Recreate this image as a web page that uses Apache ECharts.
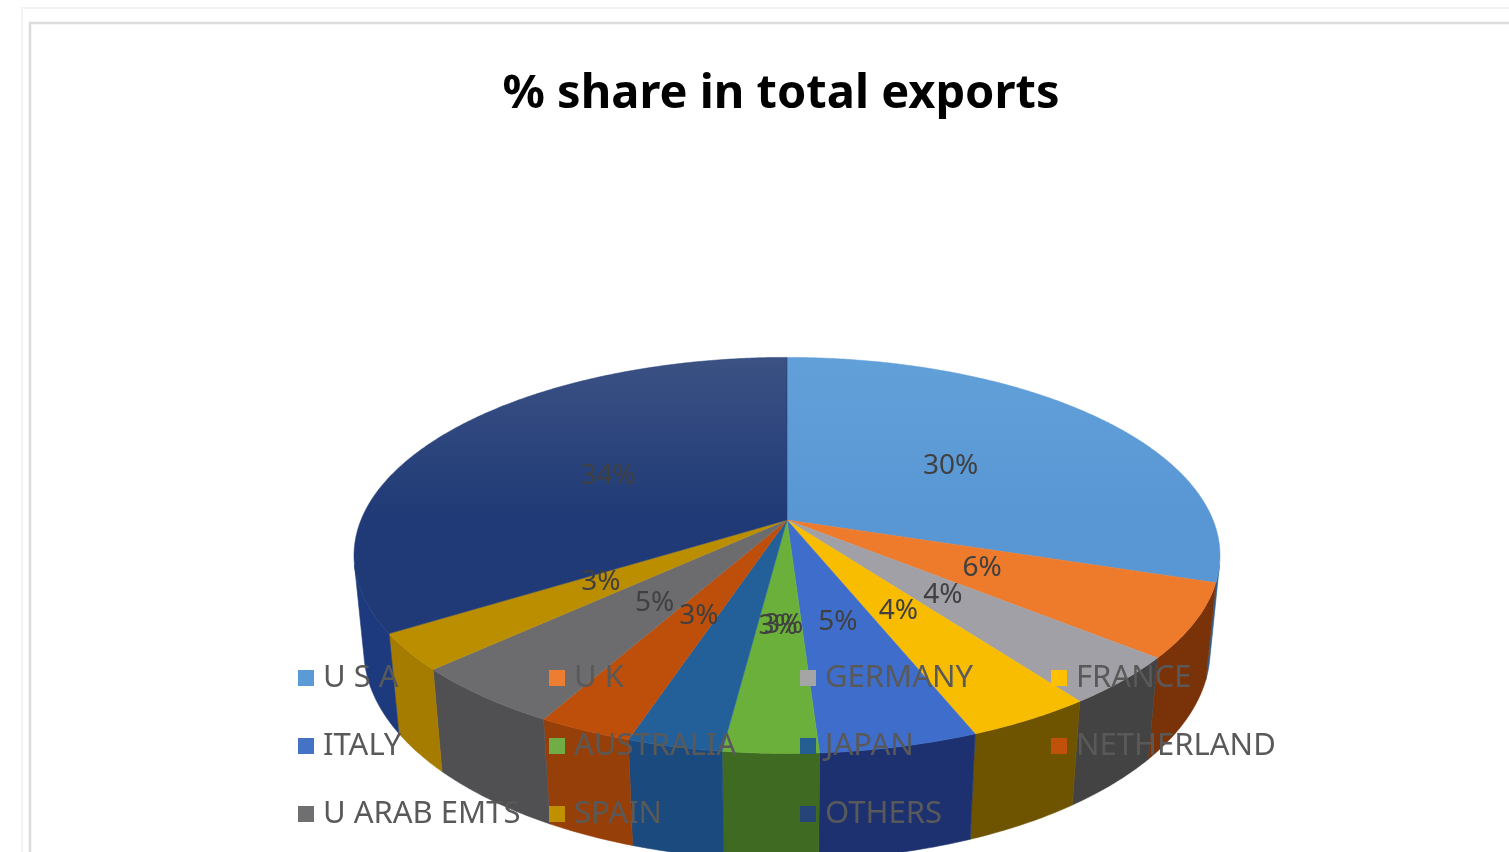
<!DOCTYPE html>
<html>
<head>
<meta charset="utf-8">
<script src="https://cdn.jsdelivr.net/npm/echarts@6/dist/echarts.min.js"></script>
<style>
  html, body { margin: 0; padding: 0; background: #ffffff; }
  #chart { width: 1509px; height: 852px; }
</style>
</head>
<body>
<div id="chart"></div>
<script>
// Export destinations and their share of total exports (%)
const countries = ['U S A', 'U K', 'GERMANY', 'FRANCE', 'ITALY', 'AUSTRALIA', 'JAPAN', 'NETHERLAND', 'U ARAB EMTS', 'SPAIN', 'OTHERS'];
const shares = [30, 6, 4, 4, 5, 3, 3, 3, 5, 3, 34];

// Slice colours: flat (legend), top face gradient (light -> base), outer wall
const baseColors = ['#5b9bd5', '#ed7d31', '#a5a5a5', '#ffc000', '#4472c4', '#70ad47', '#255e91', '#c0500a', '#6f6f72', '#bf9000', '#264478'];
const topLight   = ['#62a0d9', '#f3873a', '#aeaeb2', '#ffc618', '#4a78cf', '#7cbb4a', '#2c67a2', '#cc5a12', '#7a7a7c', '#c99a14', '#3c5284'];
const topBase    = ['#5897d4', '#ee7b2c', '#a0a0a6', '#f8bc00', '#3f6dcb', '#6cb03c', '#23609a', '#bd4f0a', '#6c6c6f', '#bb8e00', '#1f3a76'];
const wallColors = ['#2e5f8f', '#7a3208', '#434343', '#6e5400', '#1d3170', '#3f6a22', '#1b4a7e', '#973f08', '#505052', '#a67c00', '#1e3a7e'];
// Small nudges for crowded data labels (pixels)
const labelNudge = [[0, 0], [0, 0], [0, 0], [0, 0], [0, 0], [4, 0], [42, 4], [4, 0], [8, 2], [-8, 0], [0, 0]];

// Start offset of each slice (cumulative share) and the total
const total = shares.reduce((a, b) => a + b, 0);
const starts = [];
shares.reduce((acc, v, i) => { starts[i] = acc; return acc + v; }, 0);

// Simple perspective projection of a tilted disc (the pie body)
const CX = 787, CY = 520, R = 426;         // screen centre and radius scale
const SIN_T = 0.45, COS_T = Math.sqrt(1 - SIN_T * SIN_T); // tilt
const DIST = 4.99;                          // camera distance (radius units)
const DEPTH = 0.25;                         // pie thickness (radius units)
const LABEL_R = 0.5;

function project(x, y, z) {
  const sy = -y * COS_T + z * SIN_T;
  const dz = z * COS_T + y * SIN_T;
  const k = DIST / (DIST - dz);
  return [CX + R * x * k, CY + R * sy * k];
}
function rimPoint(theta, y, r) {
  r = r == null ? 1 : r;
  return project(r * Math.sin(theta), y, -r * Math.cos(theta));
}
// Outer wall faces the camera where cos(theta) < -1 / (DIST * COS_T)
const VIS0 = Math.acos(-1 / (DIST * COS_T));
const VIS1 = 2 * Math.PI - VIS0;

function arc(a0, a1, y) {
  const n = Math.max(2, Math.ceil((a1 - a0) / (Math.PI / 360)));
  const pts = [];
  for (let i = 0; i <= n; i++) pts.push(rimPoint(a0 + (a1 - a0) * i / n, y));
  return pts;
}

function renderSlice(params, api) {
  const i = params.seriesIndex;
  const value = api.value(0), start = api.value(1), sum = api.value(2);
  const a0 = start / sum * 2 * Math.PI;
  const a1 = (start + value) / sum * 2 * Math.PI;
  const children = [];

  const w0 = Math.max(a0, VIS0), w1 = Math.min(a1, VIS1);
  if (w1 > w0) {
    const topEdge = arc(w0, w1, 0);
    const botEdge = arc(w0, w1, -DEPTH).reverse();
    children.push({
      type: 'polygon', z2: 1,
      shape: { points: topEdge.concat(botEdge) },
      style: { fill: wallColors[i], stroke: wallColors[i], lineWidth: 0.6 }
    });
  }

  const face = [project(0, 0, 0)].concat(arc(a0, a1, 0));
  children.push({
    type: 'polygon', z2: 10,
    shape: { points: face },
    style: {
      fill: new echarts.graphic.LinearGradient(0, 355, 0, 760, [
        { offset: 0, color: topLight[i] }, { offset: 0.4, color: topBase[i] }, { offset: 1, color: topBase[i] }
      ], true),
      stroke: topBase[i], lineWidth: 0.5
    }
  });

  const mid = (a0 + a1) / 2;
  const lp = rimPoint(mid, 0, LABEL_R);
  children.push({
    type: 'text', z2: 30,
    x: lp[0] + labelNudge[i][0], y: lp[1] + labelNudge[i][1],
    style: {
      text: Math.round(value / sum * 100) + '%',
      fill: '#404040',
      font: '28px "Noto Sans", sans-serif',
      align: 'center', verticalAlign: 'middle'
    }
  });
  return { type: 'group', children };
}

const chart = echarts.init(document.getElementById('chart'), null, { renderer: 'canvas' });
chart.setOption({
  animation: false,
  color: baseColors,
  graphic: [
    { type: 'rect', z: -10, shape: { x: 22, y: 8, width: 1600, height: 1000 },
      style: { fill: '#ffffff', stroke: '#f3f3f3', lineWidth: 2 } },
    { type: 'rect', z: -9, shape: { x: 30, y: 23, width: 1600, height: 1000 },
      style: { fill: '#ffffff', stroke: '#dcdcdc', lineWidth: 2.5 } }
  ],
  title: {
    text: '% share in total exports',
    left: 776, top: 66, textAlign: 'center',
    textStyle: { fontFamily: 'Noto Sans', fontWeight: 'bold', fontSize: 47, color: '#000000' }
  },
  legend: {
    data: countries,
    left: 293, top: 644, width: 1000,
    orient: 'horizontal',
    icon: 'rect', itemWidth: 16, itemHeight: 16, itemGap: 10,
    textStyle: {
      fontFamily: 'Noto Sans', fontSize: 31, color: '#595959',
      width: 216, lineHeight: 58, padding: [0, 0, 0, 4]
    }
  },
  series: countries.map((name, i) => ({
    type: 'custom',
    name: name,
    coordinateSystem: 'none',
    silent: true,
    itemStyle: { color: baseColors[i] },
    data: [[shares[i], starts[i], total]],
    renderItem: renderSlice
  }))
});
</script>
</body>
</html>
